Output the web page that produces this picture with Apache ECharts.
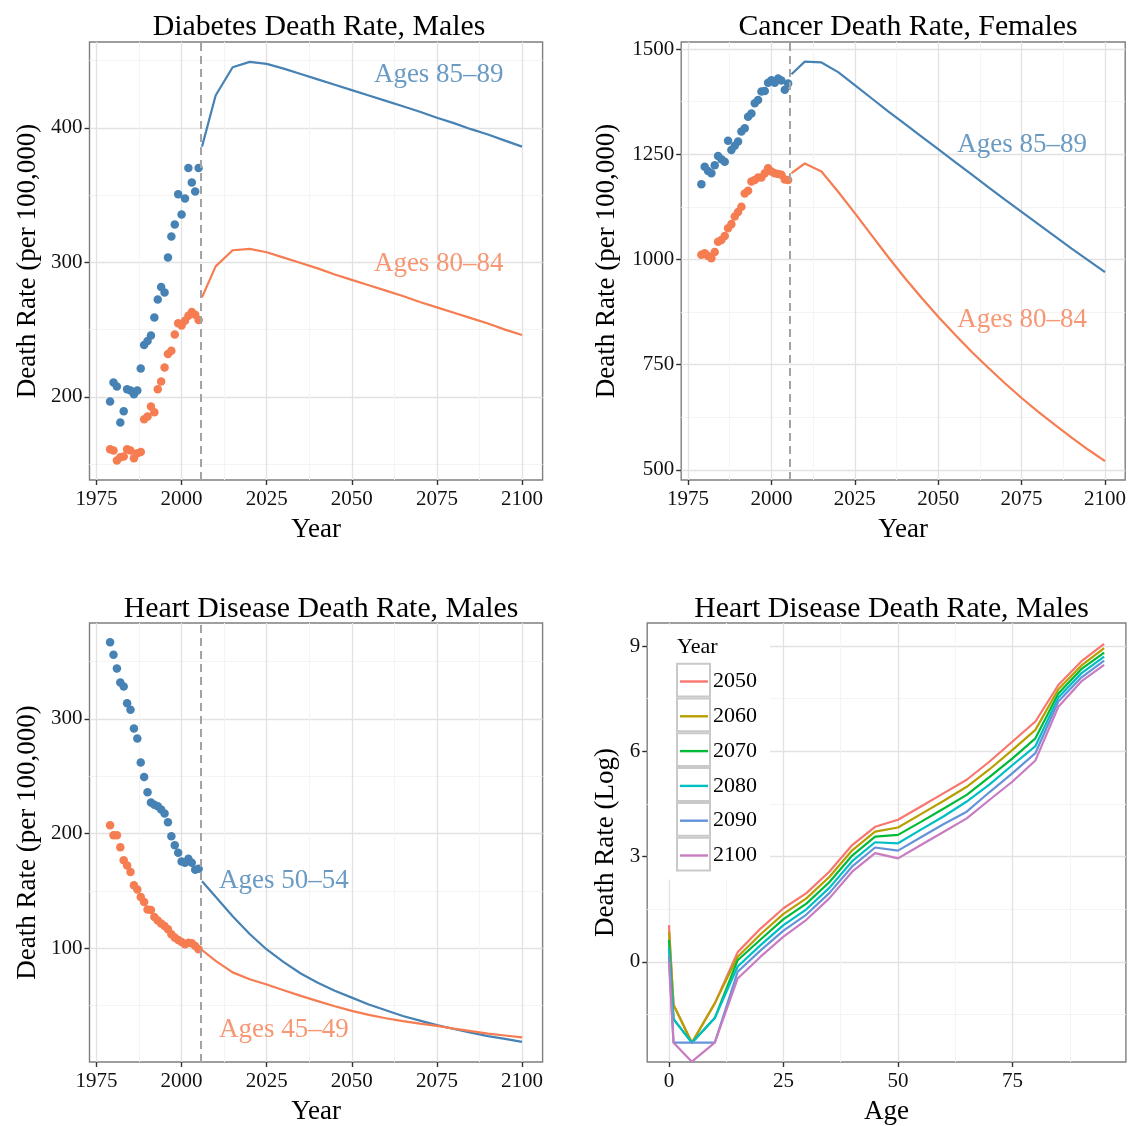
<!DOCTYPE html>
<html><head><meta charset="utf-8">
<script src="https://cdn.jsdelivr.net/npm/echarts@6/dist/echarts.min.js"></script>
<style>html,body{margin:0;padding:0;background:#fff}#c{width:1130px;height:1126px}</style>
</head><body><div id="c"></div>
<script>
// ---------- data ----------
const histYears = [1979,1980,1981,1982,1983,1984,1985,1986,1987,1988,1989,1990,1991,1992,1993,1994,1995,1996,1997,1998,1999,2000,2001,2002,2003,2004,2005];
const projYears = [2006,2010,2015,2020,2025,2030,2035,2040,2045,2050,2055,2060,2065,2070,2075,2080,2085,2090,2095,2100];
const forecastStart = 2005.5;

const diabetes85Hist = [196.5,210.6,207.7,180.9,189.4,205.7,204.7,202.0,204.7,221.1,238.5,241.6,245.6,259.0,272.4,281.6,277.6,303.6,319.2,328.1,350.7,335.6,347.5,370.1,359.4,352.7,370.1];
const diabetes80Hist = [161.1,160.1,152.7,155.2,155.6,161.1,160.1,154.4,158.1,159.1,183.4,185.4,192.8,188.6,205.7,211.4,221.8,231.8,234.2,246.4,254.8,253.1,256.6,260.3,263.0,261.0,257.2];
const diabetes85Proj = [386,424,445,449,447.5,444,440,436,432,428,424,420,416,412,407.5,403.5,399,395,390.5,386];
const diabetes80Proj = [274,297,309,310,307.5,303.5,299.5,295.5,291,287,283,279,275,270.5,266.5,262.5,258.5,254.5,250,246];

const cancer85Hist = [1179,1220,1210,1205,1224,1246,1238,1232,1282,1260,1270,1280,1304,1312,1339,1347,1371,1379,1399,1400,1420,1426,1420,1430,1425,1403,1418];
const cancer80Hist = [1011,1015,1008,1003,1018,1042,1046,1056,1074,1084,1102,1113,1125,1157,1163,1185,1189,1195,1195,1205,1217,1209,1205,1203,1201,1190,1189];
const cancer85Proj = [1440,1470,1468,1445,1414,1383,1352,1322,1292,1262,1232,1202,1172,1142,1113,1084,1055,1026,998,970];
const cancer80Proj = [1205,1228,1209,1161,1110,1058,1006,956,909,864,822,781,743,706,671,638,607,577,548,521];

const heart50Hist = [366.7,355.9,343.8,331.6,328.1,313.6,307.8,291.6,282.9,262.0,249.3,235.9,227.0,225.2,223.8,220.9,217.4,209.8,197.7,189.8,183.2,175.7,174.5,178.0,174.5,168.4,169.3];
const heart45Hist = [207.2,198.5,198.5,188.1,176.8,172.2,166.4,155.0,151.3,144.6,140.3,133.9,133.3,127.2,124.3,121.7,119.4,116.5,112.2,109.3,107.2,105.5,103.5,104.9,104.3,102.0,99.1];
const heart50Proj = [158.5,145,128,112.5,99,88,78,70,63,57,51,46,41,37,33,29.7,26.5,23.5,21,18.5];
const heart45Proj = [98.5,89,79,73,68.5,63.5,58.5,54,49.5,45.5,42,39,36.5,34.3,32.4,30,27.8,25.7,24,22.3];

const ages = [0,1,5,10,15,20,25,30,35,40,45,50,55,60,65,70,75,80,85,90,95];
const rate2050 = [1.05,-1.22,-2.30,-1.18,0.28,0.95,1.53,1.96,2.57,3.33,3.85,4.05,4.43,4.81,5.19,5.71,6.28,6.85,7.89,8.56,9.06];
const rate2060 = [0.86,-1.22,-2.30,-1.18,0.15,0.79,1.37,1.81,2.42,3.18,3.71,3.83,4.21,4.59,4.99,5.49,6.04,6.61,7.77,8.44,8.94];
const rate2070 = [0.63,-1.63,-2.30,-1.60,0.05,0.64,1.22,1.66,2.27,3.03,3.57,3.62,3.99,4.37,4.76,5.27,5.80,6.37,7.65,8.34,8.81];
const rate2080 = [0.39,-1.63,-2.30,-1.60,-0.13,0.48,1.05,1.50,2.11,2.87,3.41,3.38,3.77,4.15,4.57,5.06,5.61,6.15,7.53,8.22,8.70];
const rate2090 = [0.16,-2.30,-2.30,-2.30,-0.28,0.33,0.89,1.35,1.96,2.72,3.26,3.17,3.55,3.93,4.28,4.84,5.38,5.95,7.42,8.10,8.58];
const rate2100 = [0.00,-2.30,-2.84,-2.30,-0.47,0.15,0.72,1.20,1.81,2.57,3.10,2.95,3.33,3.71,4.09,4.62,5.14,5.74,7.27,7.99,8.46];
const legendYears = ['2050','2060','2070','2080','2090','2100'];

const yearTicks = [1975,2000,2025,2050,2075,2100];
const diabetesTicks = [200,300,400];
const cancerTicks = [500,750,1000,1250,1500];
const heartTicks = [100,200,300];
const ageTicks = [0,25,50,75];
const logTicks = [0,3,6,9];

// annotation anchors (data coordinates)
const diabetesLabels = [['Ages 85\u201389', 2094.6, 439.4], ['Ages 80\u201384', 2094.6, 298.9]];
const cancerLabels = [['Ages 85\u201389', 2094.6, 1272], ['Ages 80\u201384', 2094.6, 856]];
const heartLabels = [['Ages 50\u201354', 2011, 159], ['Ages 45\u201349', 2011, 28.7]];

// ---------- style ----------
const F = '"Liberation Serif", "DejaVu Serif", serif';
const BLUE = '#4682B4', ORANGE = '#F57D51';
const LOGCOLORS = ['#F8766D','#B79F00','#00BA38','#00BFC4','#6493DA','#C97BC0'];

function valAxis(gridIndex, min, max, step, ticks, name, nameGap, isX) {
  return {
    type: 'value', gridIndex, min, max, minInterval: step, maxInterval: step,
    axisLine: {show: false, onZero: false},
    axisTick: {customValues: ticks, length: 5, lineStyle: {color: '#333', width: 1.4}},
    axisLabel: {customValues: ticks, fontSize: 21, color: '#111', fontFamily: F, margin: isX ? 9 : 7,
      formatter: v => String(v)},
    splitLine: {show: true, lineStyle: {color: '#e2e2e2', width: 1.3}},
    minorTick: {show: false, splitNumber: 2},
    minorSplitLine: {show: true, lineStyle: {color: '#f4f4f4', width: 1}},
    name, nameLocation: 'middle', nameGap,
    nameTextStyle: {fontSize: 27, fontFamily: F, color: '#000'}
  };
}
const pairs = (xs, ys) => xs.map((x, i) => [x, ys[i]]);

function dots(ix, xs, ys, color) {
  return {type: 'scatter', xAxisIndex: ix, yAxisIndex: ix, data: pairs(xs, ys),
    symbolSize: 8.5, itemStyle: {color, opacity: 1}, z: 3};
}
function proj(ix, xs, ys, color, dash) {
  const s = {type: 'line', xAxisIndex: ix, yAxisIndex: ix, data: pairs(xs, ys),
    showSymbol: false, lineStyle: {color, width: 2.2}, itemStyle: {color}, z: 3};
  if (dash) {
    s.markLine = {silent: true, symbol: 'none', label: {show: false},
      lineStyle: {type: [8, 5], color: '#a3a3a3', width: 2},
      data: [{xAxis: forecastStart}]};
  }
  return s;
}
function texts(ix, list, colors, align) {
  return list.map((l, i) => ({type: 'scatter', xAxisIndex: ix, yAxisIndex: ix,
    data: [[l[1], l[2], l[0]]], symbolSize: 0, silent: true, z: 5,
    label: {show: true, position: 'inside', align, verticalAlign: 'middle',
      formatter: p => p.data[2], color: colors[i], fontSize: 27, fontFamily: F}}));
}

const grids = [
  {left: 89.5, top: 42, width: 453.1, height: 438},
  {left: 681.2, top: 42, width: 444, height: 438},
  {left: 89.5, top: 623, width: 453.1, height: 440},
  {left: 647.2, top: 623, width: 478.7, height: 439}
].map(g => Object.assign(g, {show: true, borderColor: '#7f7f7f', borderWidth: 1.4, backgroundColor: '#fff'}));

const titleStyle = {fontFamily: F, fontSize: 29.8, fontWeight: 'normal', color: '#000'};
const rateSeries = [rate2050, rate2060, rate2070, rate2080, rate2090, rate2100];

const option = {
  animation: false,
  backgroundColor: '#fff',
  title: [
    {text: 'Diabetes Death Rate, Males', left: 314, top: 7, textAlign: 'center', textStyle: titleStyle},
    {text: 'Cancer Death Rate, Females', left: 903, top: 7, textAlign: 'center', textStyle: titleStyle},
    {text: 'Heart Disease Death Rate, Males', left: 316, top: 589, textAlign: 'center', textStyle: titleStyle},
    {text: 'Heart Disease Death Rate, Males', left: 886.5, top: 589, textAlign: 'center', textStyle: titleStyle},
    {text: 'Year', left: 677, top: 636, padding: 0, z: 10, textStyle: {fontFamily: F, fontSize: 22, fontWeight: 'normal', color: '#000'}}
  ],
  grid: grids,
  legend: [
    {data: legendYears, orient: 'vertical', left: 648, top: 624.7, padding: [38, 11, 8, 28],
      itemGap: 0, itemWidth: 33, itemHeight: 32.8, icon: 'rect', selectedMode: false,
      backgroundColor: '#fff', z: 4,
      itemStyle: {color: '#fff', borderColor: '#c9c9c9', borderWidth: 2},
      textStyle: {fontFamily: F, fontSize: 22, color: 'rgba(0,0,0,0)'}},
    {data: legendYears, orient: 'vertical', left: 680, top: 669.5, padding: 0,
      itemGap: 10.8, itemWidth: 28, itemHeight: 2.4, icon: 'rect', selectedMode: false, z: 6,
      itemTextGap: 9,
      textStyle: {fontFamily: F, fontSize: 22, color: '#000', lineHeight: 24}}
  ],
  xAxis: [
    valAxis(0, 1972.95, 2106.05, 25, yearTicks, 'Year', 36, true),
    valAxis(1, 1972.95, 2106.05, 25, yearTicks, 'Year', 36, true),
    valAxis(2, 1972.95, 2106.05, 25, yearTicks, 'Year', 36, true),
    valAxis(3, -4.75, 99.75, 25, ageTicks, 'Age', 36, true)
  ],
  yAxis: [
    valAxis(0, 138.2, 463.8, 100, diabetesTicks, 'Death Rate (per 100,000)', 48, false),
    valAxis(1, 476.2, 1516.6, 250, cancerTicks, 'Death Rate (per 100,000)', 61, false),
    valAxis(2, 0.9, 383.5, 100, heartTicks, 'Death Rate (per 100,000)', 48, false),
    valAxis(3, -2.85, 9.655, 3, logTicks, 'Death Rate (Log)', 28, false)
  ],
  series: [
    dots(0, histYears, diabetes85Hist, BLUE),
    dots(0, histYears, diabetes80Hist, ORANGE),
    proj(0, projYears, diabetes85Proj, BLUE, true),
    proj(0, projYears, diabetes80Proj, ORANGE, false),
    ...texts(0, diabetesLabels, [BLUE, ORANGE], 'right'),

    dots(1, histYears, cancer85Hist, BLUE),
    dots(1, histYears, cancer80Hist, ORANGE),
    proj(1, projYears, cancer85Proj, BLUE, true),
    proj(1, projYears, cancer80Proj, ORANGE, false),
    ...texts(1, cancerLabels, [BLUE, ORANGE], 'right'),

    dots(2, histYears, heart50Hist, BLUE),
    dots(2, histYears, heart45Hist, ORANGE),
    proj(2, projYears, heart50Proj, BLUE, true),
    proj(2, projYears, heart45Proj, ORANGE, false),
    ...texts(2, heartLabels, [BLUE, ORANGE], 'left'),

    ...legendYears.map((name, i) => ({
      type: 'line', name, xAxisIndex: 3, yAxisIndex: 3, data: pairs(ages, rateSeries[i]),
      showSymbol: false, lineStyle: {color: LOGCOLORS[i], width: 2.2}, itemStyle: {color: LOGCOLORS[i]}, z: 3
    }))
  ]
};
const chart = echarts.init(document.getElementById('c'), null, {renderer: 'canvas'});
chart.setOption(option);
</script></body></html>
